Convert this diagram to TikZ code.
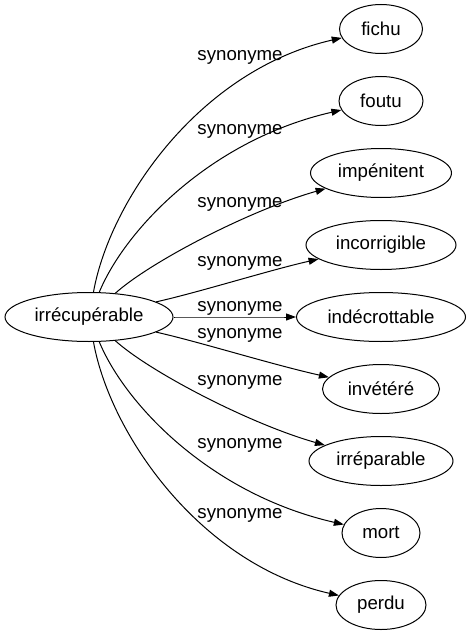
\documentclass[tikz,border=0pt]{standalone}
\usepackage{fontspec}
\setmainfont{Liberation Sans}
\usetikzlibrary{shapes.geometric,arrows.meta}

\begin{document}
\begin{tikzpicture}[x=0.75pt,y=-0.75pt]
  \tikzset{vertex/.style = {shape=ellipse,draw,line width=0.75pt,minimum height=36.75pt,inner sep=0pt,font=\fontsize{14pt}{16pt}\selectfont}}
  \tikzset{edge/.style = {-{Triangle[length=7.5pt,width=5.25pt]},line width=0.75pt}}
  \tikzset{lbl/.style = {inner sep=0pt,font=\fontsize{14pt}{16pt}\selectfont}}
  \useasboundingbox (0,0) rectangle (470,635);
	\node[vertex,minimum width=126pt] (irr) at (89,317) {irrécupérable};

    \foreach \name/\y/\w/\txt in {fichu/29/83/fichu, foutu/101/84/foutu,
      impenitent/173/141/impénitent, incorrigible/245/150/incorrigible,
      indecrottable/317/169/indécrottable, invetere/389/117/invétéré,
      irreparable/461/144/irréparable, mort/533/78/mort, perdu/605/90/perdu}
    \node[vertex,minimum width=\w*0.75pt] (\name) at (381,\y) {\txt};

    \foreach \to/\ax/\ay/\bx/\by in {fichu/110/200/200/70, foutu/125/230/210/140,
      impenitent/150/262/250/210, incorrigible/200/292/270/270,
      indecrottable/200/317/270/317, invetere/200/342/270/364,
      irreparable/150/372/250/424, mort/125/404/210/494, perdu/110/434/200/564}
    \draw[edge] (irr) .. controls (\ax,\ay) and (\bx,\by) .. (\to);

    \foreach \i/\y in {1/57, 2/131, 3/204, 4/263, 5/308, 6/335, 7/382, 8/445, 9/515}
    \node[lbl] (syn\i) at (240,\y) {synonyme};
\end{tikzpicture}
\end{document}
